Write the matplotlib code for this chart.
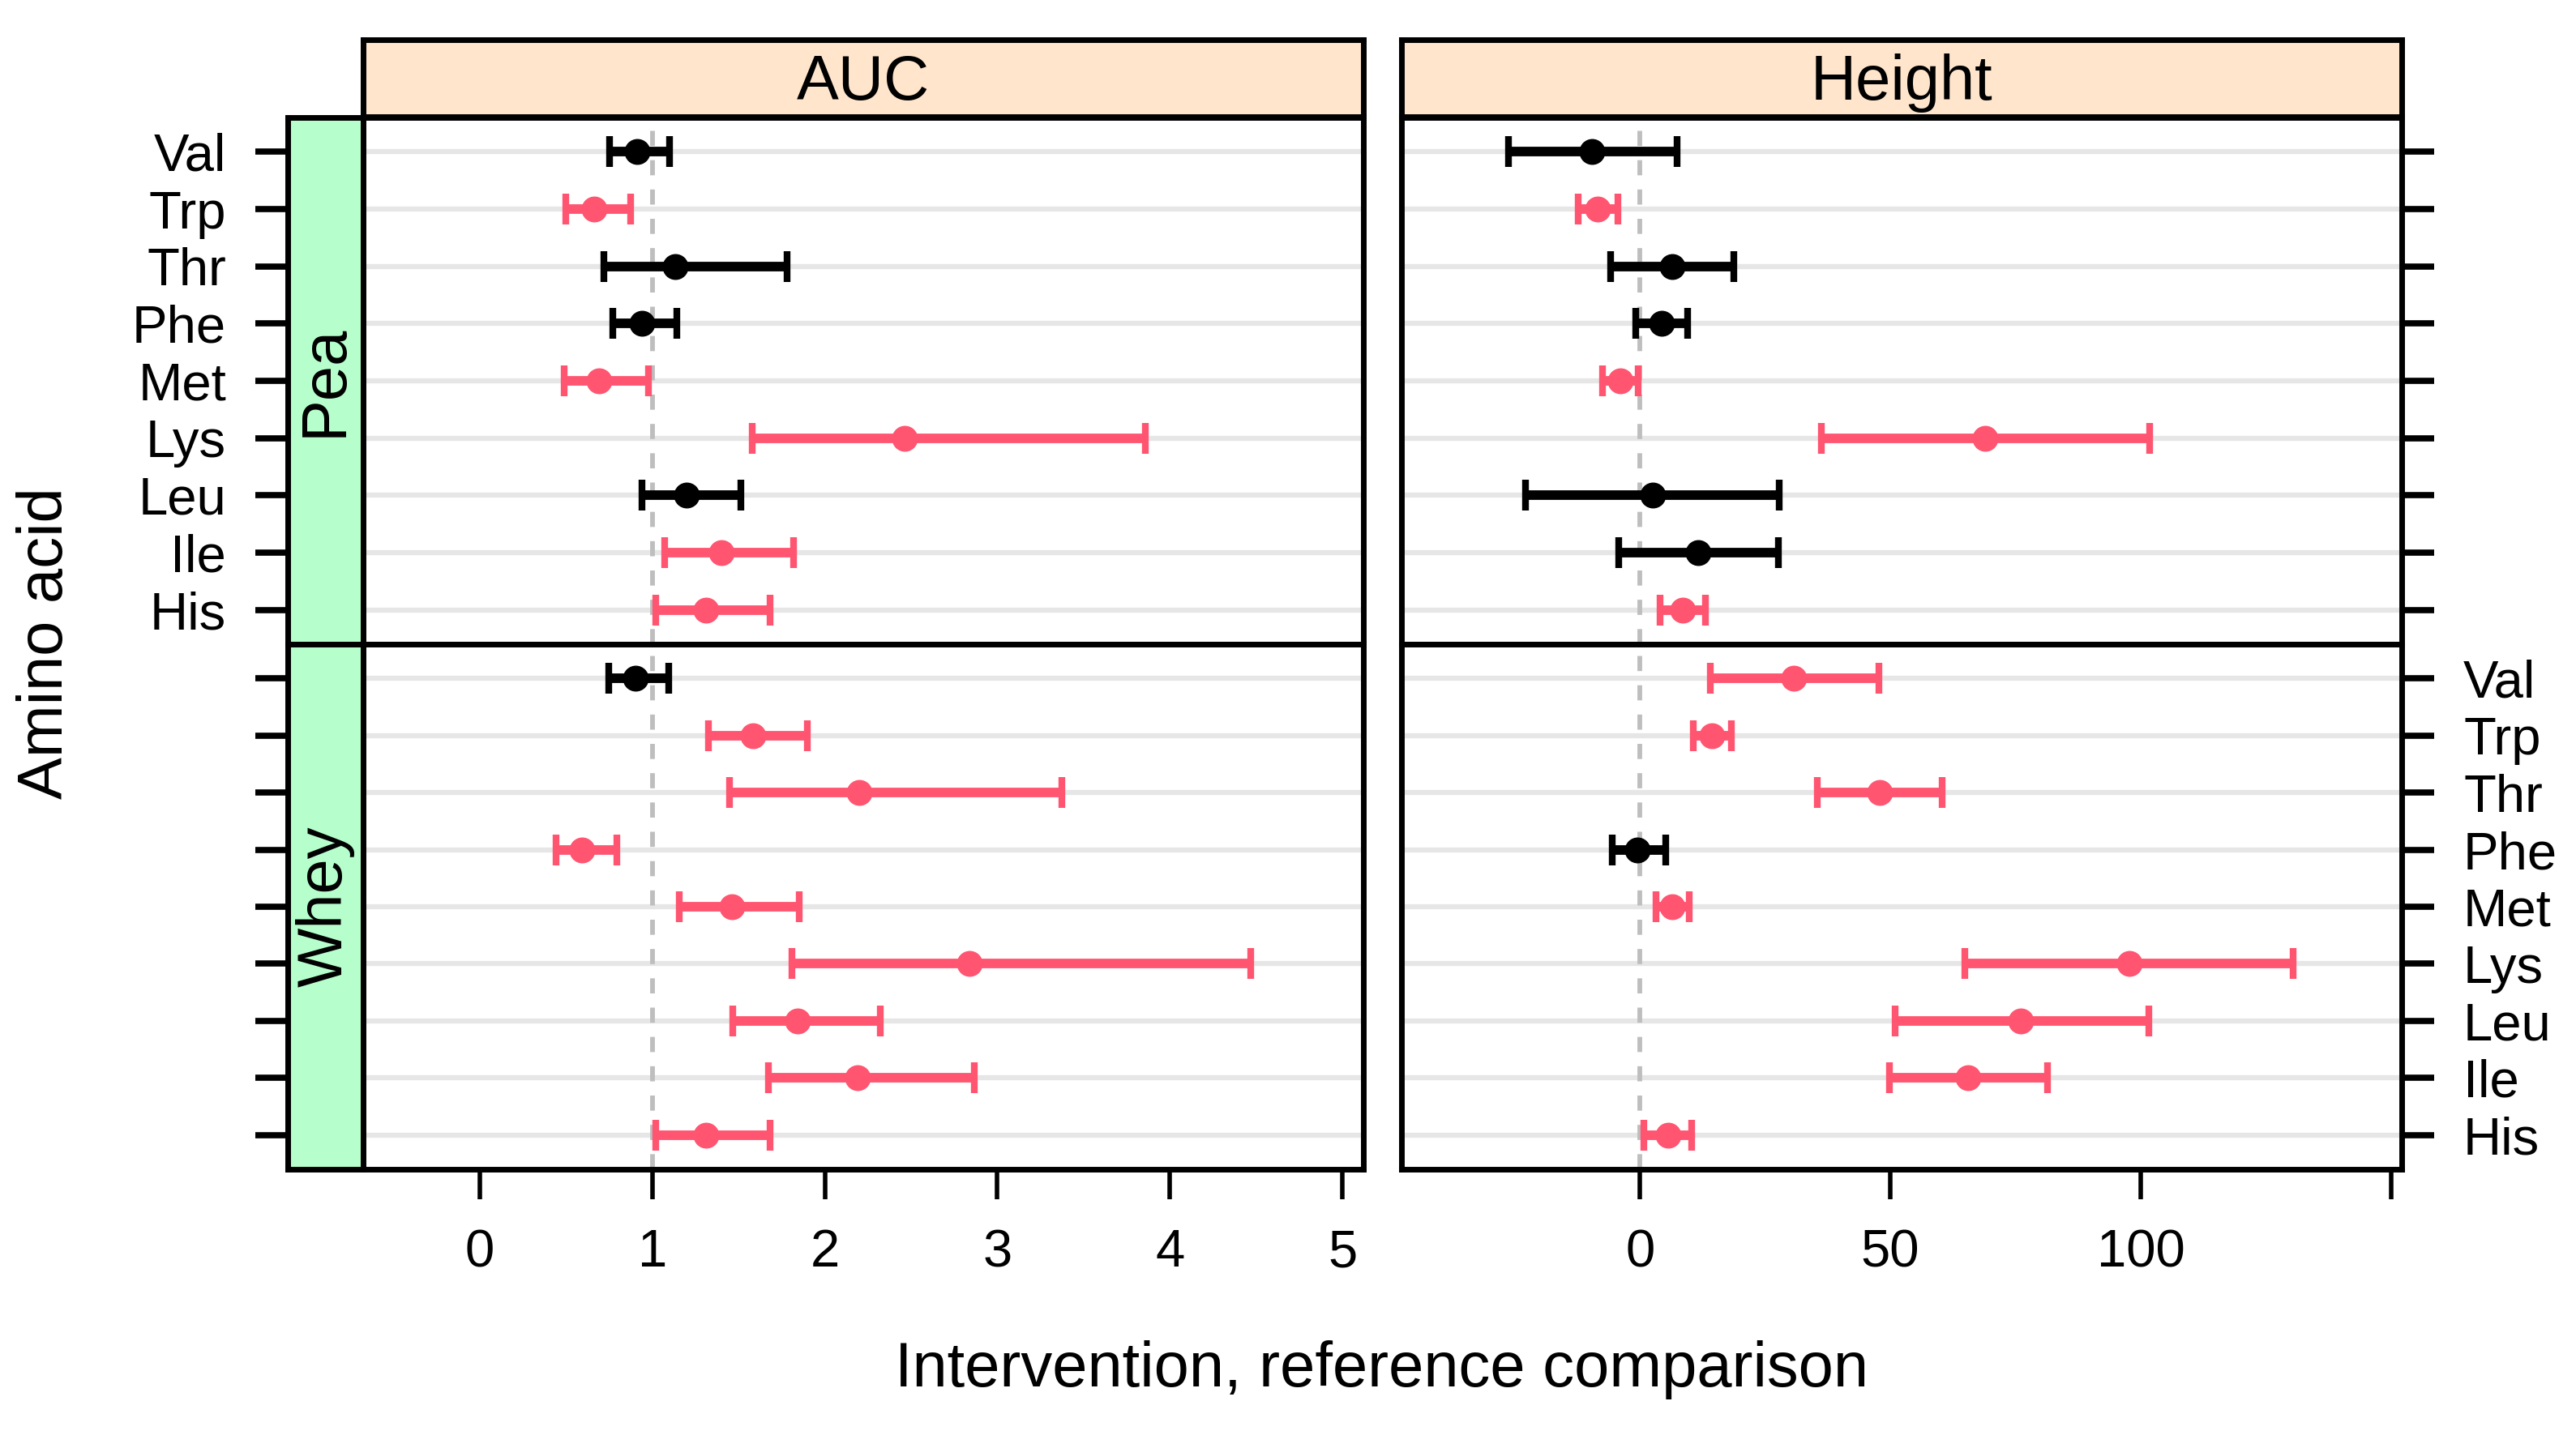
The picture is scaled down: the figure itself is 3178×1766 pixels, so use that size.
import numpy as np
import matplotlib
matplotlib.use('Agg')
import matplotlib.pyplot as plt

plt.rcParams['font.family'] = ['Liberation Sans', 'DejaVu Sans']

# ---------------- data ----------------
amino_acids = ['Val', 'Trp', 'Thr', 'Phe', 'Met', 'Lys', 'Leu', 'Ile', 'His']
groups = ['Pea', 'Whey']
measures = ['AUC', 'Height']
reference_values = [1.0, 0.0]

auc_pea_est = [0.91, 0.66, 1.13, 0.94, 0.69, 2.46, 1.20, 1.40, 1.31]
auc_pea_lo = [0.75, 0.50, 0.72, 0.77, 0.49, 1.58, 0.94, 1.07, 1.02]
auc_pea_hi = [1.10, 0.875, 1.78, 1.14, 0.975, 3.86, 1.515, 1.82, 1.68]

auc_whey_est = [0.90, 1.585, 2.20, 0.59, 1.46, 2.84, 1.84, 2.19, 1.31]
auc_whey_lo = [0.745, 1.325, 1.445, 0.44, 1.155, 1.81, 1.467, 1.673, 1.02]
auc_whey_hi = [1.095, 1.90, 3.375, 0.795, 1.85, 4.47, 2.32, 2.865, 1.68]

height_pea_est = [-9.5, -8.5, 6.5, 4.4, -3.9, 68.9, 2.5, 11.7, 8.6]
height_pea_lo = [-26.3, -12.4, -5.9, -0.8, -7.4, 36.3, -22.9, -4.2, 4.0]
height_pea_hi = [7.4, -4.4, 18.8, 9.6, -0.4, 101.7, 27.8, 27.7, 13.1]

height_whey_est = [30.7, 14.4, 47.8, -0.5, 6.5, 97.8, 76.1, 65.5, 5.6]
height_whey_lo = [14.0, 10.7, 35.4, -5.6, 3.2, 64.9, 51.0, 49.8, 0.8]
height_whey_hi = [47.7, 18.3, 60.3, 5.1, 9.9, 130.4, 101.6, 81.4, 10.4]

auc_ticks = [0, 1, 2, 3, 4, 5]
auc_ticklabels = ['0', '1', '2', '3', '4', '5']
height_ticks = [0, 50, 100, 150]
height_ticklabels = ['0', '50', '100', '']

xlabel = 'Intervention, reference comparison'
ylabel = 'Amino acid'

data = {
    ('Pea', 'AUC'): (auc_pea_est, auc_pea_lo, auc_pea_hi),
    ('Whey', 'AUC'): (auc_whey_est, auc_whey_lo, auc_whey_hi),
    ('Pea', 'Height'): (height_pea_est, height_pea_lo, height_pea_hi),
    ('Whey', 'Height'): (height_whey_est, height_whey_lo, height_whey_hi),
}

# ---------------- style ----------------
W, H = 3178, 1766
DPI = 100
PINK = '#FF5571'
BLACK = '#000000'
PEACH = '#FFE5CC'
GREEN = '#B6FFCC'
GRID = '#E6E6E6'
REFC = '#BEBEBE'
SPINE_LW = 5.0
TICK_FS = 47
LAB_FS = 56

fig = plt.figure(figsize=(W / DPI, H / DPI), dpi=DPI)


def fx(px):
    return px / W


def fy(py):
    return 1 - py / H


strip_x0, strip_x1 = 355, 448
panel_x = {'AUC': (448, 1682), 'Height': (1729, 2963)}
row_y = {'Pea': (145, 795), 'Whey': (795, 1443)}
top_strip_y = (49, 144)
xlims = {'AUC': (-0.677, 5.122), 'Height': (-47.6, 152.1)}
ticks = {'AUC': (auc_ticks, auc_ticklabels), 'Height': (height_ticks, height_ticklabels)}

rows = np.arange(1, len(amino_acids) + 1)
ylim = (len(amino_acids) + 0.6, 0.4)


def style_spines(ax):
    for s in ax.spines.values():
        s.set_linewidth(SPINE_LW)
        s.set_color('black')


tick_kw = dict(length=28.8, width=5.5, pad=26, labelsize=TICK_FS, direction='out', color='black')

# top strips
for m in measures:
    x0, x1 = panel_x[m]
    ax = fig.add_axes([fx(x0), fy(top_strip_y[1]), fx(x1 - x0), (top_strip_y[1] - top_strip_y[0]) / H])
    ax.set_facecolor(PEACH)
    ax.set_xticks([])
    ax.set_yticks([])
    style_spines(ax)
    ax.text(0.5, 0.221, m, ha='center', va='baseline', fontsize=LAB_FS, transform=ax.transAxes)

for g in groups:
    y0, y1 = row_y[g]
    # left strip with y ticks
    sax = fig.add_axes([fx(strip_x0), fy(y1), fx(strip_x1 - strip_x0), (y1 - y0) / H])
    sax.set_facecolor(GREEN)
    sax.set_ylim(*ylim)
    sax.set_xticks([])
    sax.set_yticks(rows)
    sax.set_yticklabels(amino_acids if g == 'Pea' else [''] * len(amino_acids))
    sax.tick_params(axis='y', left=True, right=False, **tick_kw)
    style_spines(sax)
    sax.text(0.5, 0.5, g, ha='center', va='center', rotation=90, fontsize=LAB_FS,
             transform=sax.transAxes)

    for mi, m in enumerate(measures):
        x0, x1 = panel_x[m]
        ax = fig.add_axes([fx(x0), fy(y1), fx(x1 - x0), (y1 - y0) / H])
        ax.set_xlim(*xlims[m])
        ax.set_ylim(*ylim)
        style_spines(ax)
        ref = reference_values[mi]
        for r in rows:
            ax.axhline(r, color=GRID, lw=4.5, zorder=0.5)
        ax.axvline(ref, color=REFC, lw=4.2, dashes=(3.2, 3.0), zorder=1)

        est, lo, hi = (np.asarray(a, dtype=float) for a in data[(g, m)])
        for i, r in enumerate(rows):
            sig = (lo[i] > ref) or (hi[i] < ref)
            col = PINK if sig else BLACK
            ax.errorbar([est[i]], [r], xerr=[[est[i] - lo[i]], [hi[i] - est[i]]],
                        fmt='o', color=col, ecolor=col, elinewidth=8.5, capsize=13.5,
                        capthick=6, markersize=22, zorder=3)

        # y ticks
        if m == 'Height':
            ax.set_yticks(rows)
            ax.set_yticklabels(amino_acids if g == 'Whey' else [''] * len(amino_acids))
            ax.tick_params(axis='y', left=False, labelleft=False, right=True,
                           labelright=(g == 'Whey'), **tick_kw)
        else:
            ax.set_yticks([])
        # x ticks
        if g == 'Whey':
            t, tl = ticks[m]
            ax.set_xticks(t)
            ax.set_xticklabels(tl)
            ax.tick_params(axis='x', bottom=True, top=False, length=26.6, width=4,
                           pad=26, labelsize=TICK_FS, direction='out')
        else:
            ax.set_xticks([])

fig.text(fx(56), fy(794), ylabel, rotation=90, ha='center', va='center', fontsize=LAB_FS)
fig.text(fx(1705), fy(1711), xlabel, ha='center', va='baseline', fontsize=LAB_FS)

fig.savefig('out.png', dpi=DPI, facecolor='white')
